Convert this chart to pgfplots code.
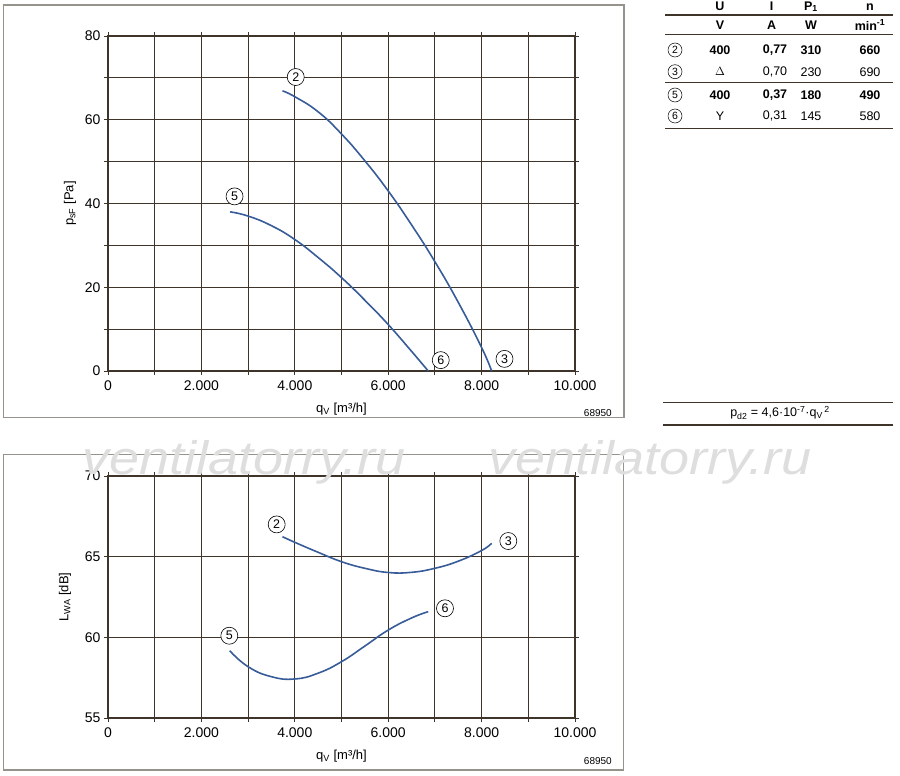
\documentclass[border=0pt]{standalone}
\usepackage{pgfplots}
\pgfplotsset{compat=1.18}
\usepackage{fontspec}
\setmainfont{Liberation Sans}

\definecolor{gridc}{RGB}{62,52,42}
\definecolor{curvec}{RGB}{55,92,152}
\definecolor{framec}{RGB}{150,146,140}

\pgfplotsset{
 fanaxis/.style={
  scale only axis, width=467pt,
  xmin=0, xmax=10000,
  xtick={0,2000,4000,6000,8000,10000},
  xticklabels={0,2.000,4.000,6.000,8.000,10.000},
  minor xtick={1000,3000,5000,7000,9000},
  grid=both,
  major grid style={gridc, line width=1pt},
  minor grid style={gridc, line width=1pt},
  axis line style={gridc, line width=1.1pt},
  tick align=outside,
  major tick length=4pt, minor tick length=4pt,
  tick style={gridc, line width=1pt},
  every tick label/.append style={font=\fontsize{14}{16}\selectfont},
  xticklabel style={yshift=-2pt},
  label style={font=\fontsize{13}{15}\selectfont},
  xlabel style={yshift=-6pt},
  scaled ticks=false,
  clip=false,
 },
 crv/.style={curvec, line width=1.6pt, smooth, tension=0.8, no marks},
}
\tikzset{
 circ/.style={circle, draw=black, line width=0.6pt, fill=white, inner sep=0pt,
   minimum size=17pt, font=\fontsize{12.5}{13}\selectfont},
 tcirc/.style={circle, draw=black, line width=0.5pt, inner sep=0pt,
   minimum size=14pt, font=\fontsize{10.5}{11}\selectfont},
 tb/.style={font=\fontsize{12.5}{14}\selectfont\bfseries, inner sep=0pt},
 tn/.style={font=\fontsize{12.5}{14}\selectfont, inner sep=0pt},
 wm/.style={anchor=base west, inner sep=0pt, font=\fontsize{47}{50}\selectfont\itshape, text=black!13, xscale=1.15},
}

\begin{document}
\begin{tikzpicture}[x=1pt,y=-1pt]
\useasboundingbox (0,0) rectangle (900,776);

% frames
\draw[framec, line width=1.6pt] (3.3,5) rectangle (624,417.3);
\draw[framec, line width=1.6pt] (3.3,454.3) rectangle (623.3,770);

% ---------- top chart ----------
\begin{axis}[fanaxis, height=335pt, at={(108pt,-371pt)}, anchor=south west,
  ymin=0, ymax=80,
  ytick={0,20,40,60,80}, yticklabels={0,20,40,60,80},
  minor ytick={10,30,50,70},
  xlabel={q\textsubscript{V} [m³/h]},
  ylabel={p\textsubscript{sF} [Pa]},
  ylabel style={yshift=2pt},
]
\addplot[crv] coordinates {
 (3736,66.9) (4000,65.5) (4500,61.9) (5000,56.6) (5500,50.2) (6000,43.0)
 (6500,34.9) (7000,26.1) (7500,16.4) (8000,5.6) (8214,0)
};
\addplot[crv] coordinates {
 (2614,38.0) (3000,37.0) (3500,34.7) (4000,31.4) (4500,27.1) (5000,22.3)
 (5500,16.9) (6000,11.1) (6500,4.7) (6857,0)
};
\node[circ] at (axis cs:4020,70.2) {2};
\node[circ] at (axis cs:2710,41.7) {5};
\node[circ] at (axis cs:7125,2.6) {6};
\node[circ] at (axis cs:8490,2.9) {3};
\end{axis}
\node[anchor=east, font=\fontsize{10}{12}\selectfont, inner sep=0pt] at (612,413.3) {68950};

% ---------- bottom chart ----------
\begin{axis}[fanaxis, height=242pt, at={(108pt,-718pt)}, anchor=south west,
  ymin=55, ymax=70,
  ytick={55,60,65,70}, yticklabels={55,60,65,70},
  xlabel={q\textsubscript{V} [m³/h]},
  ylabel={L\textsubscript{WA} [dB]},
  ylabel style={yshift=7pt},
]
\addplot[crv] coordinates {
 (3736,66.24) (4000,65.89) (4500,65.27) (5000,64.69) (5500,64.28) (6000,64.02)
 (6500,64.03) (7000,64.28) (7500,64.72) (8000,65.38) (8214,65.83)
};
\addplot[crv] coordinates {
 (2607,59.17) (3000,58.18) (3500,57.56) (4000,57.42) (4500,57.78)
 (5000,58.49) (5500,59.46) (6000,60.45) (6500,61.20) (6857,61.59)
};
\node[circ] at (axis cs:3612,67.0) {2};
\node[circ] at (axis cs:2598,60.1) {5};
\node[circ] at (axis cs:8572,65.97) {3};
\node[circ] at (axis cs:7216,61.8) {6};
\end{axis}
\node[anchor=east, font=\fontsize{10}{12}\selectfont, inner sep=0pt] at (612,760.7) {68950};

% ---------- watermark ----------
\node[wm] at (82,474) {ventilatorry.ru};
\node[wm] at (488,474) {ventilatorry.ru};

% ---------- table ----------
\draw[gridc, line width=1.1pt] (665,15) -- (893,15);
\draw[gridc, line width=1.1pt] (665,34.3) -- (893,34.3);
\draw[gridc, line width=1.6pt] (665,82.7) -- (893,82.7);
\draw[gridc, line width=1.1pt] (665,128.3) -- (893,128.3);
\node[tb] at (720,6.7) {U};
\node[tb] at (771.7,6.7) {I};
\node[tb] at (811,6.7) {P\textsubscript{1}};
\node[tb] at (870,6.7) {n};
\node[tb] at (720,25) {V};
\node[tb] at (771.7,25) {A};
\node[tb] at (811,25) {W};
\node[tb] at (870,25) {min\textsuperscript{-1}};
\node[tcirc] at (675,50) {2};
\node[tb] at (720,50) {400};
\node[tb] at (775,50) {0,77};
\node[tb] at (811,50) {310};
\node[tb] at (870,50) {660};
\node[tcirc] at (675,71.7) {3};
\node[tn] at (720,71.7) {$\Delta$};
\node[tn] at (775,71.7) {0,70};
\node[tn] at (811,71.7) {230};
\node[tn] at (870,71.7) {690};
\node[tcirc] at (675,95) {5};
\node[tb] at (720,95) {400};
\node[tb] at (775,95) {0,37};
\node[tb] at (811,95) {180};
\node[tb] at (870,95) {490};
\node[tcirc] at (675,116) {6};
\node[tn] at (720,116) {Y};
\node[tn] at (775,116) {0,31};
\node[tn] at (811,116) {145};
\node[tn] at (870,116) {580};

% formula
\draw[gridc, line width=1.1pt] (663,402.3) -- (893,402.3);
\draw[gridc, line width=1.1pt] (663,425) -- (893,425);
\node[tn] at (780,413) {p\textsubscript{d2} = 4,6·10\textsuperscript{-7}·q\textsubscript{V}\textsuperscript{\,2}};
\end{tikzpicture}
\end{document}
